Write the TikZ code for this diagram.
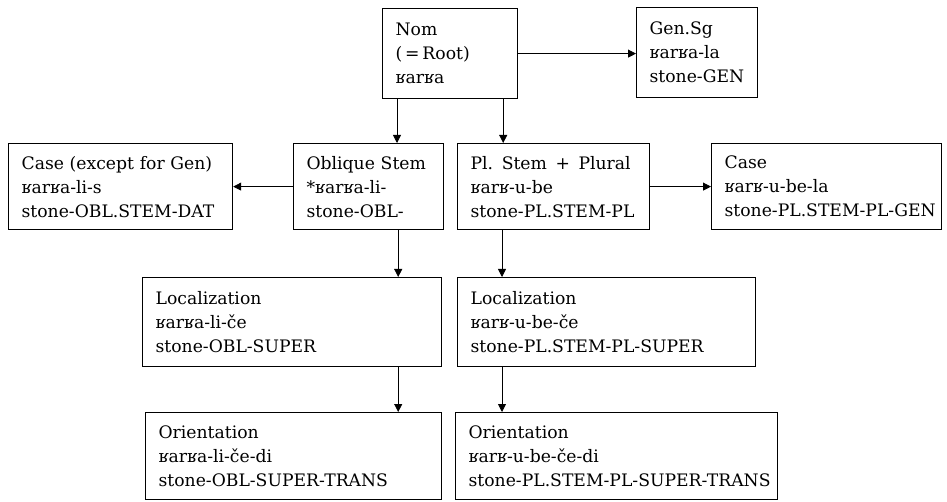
\documentclass[tikz,border=0pt]{standalone}
\usepackage{fontspec}
\setmainfont{DejaVu Serif}
\usetikzlibrary{arrows.meta}
\tikzset{
  box/.style={draw, line width=1.2pt, align=left, anchor=north west,
    inner xsep=13pt, inner ysep=0pt,
    font=\fontsize{17.2pt}{24pt}\selectfont},
  conn/.style={line width=0.8pt, -{Triangle[length=8pt,width=8pt]}}
}
\newcommand{\bx}[6]{% name, x1, y1, x2, y2, text
  \pgfmathsetmacro{\bw}{#4-#2}\pgfmathsetmacro{\bh}{#5-#3}\pgfmathsetmacro{\tw}{#4-#2-26}%
  \node[box, minimum width=\bw pt, minimum height=\bh pt, text width=\tw pt] (#1) at (#2,#3) {#6};}
\begin{document}
\begin{tikzpicture}[x=1pt,y=-1pt]
\useasboundingbox (0,0) rectangle (947,502);
\bx{nom}{382}{8}{517}{98}{Nom\\(\thinspace=\thinspace Root)\\ʁarʁa}
\bx{gen}{636}{7}{757}{97}{Gen.Sg\\ʁarʁa-la\\\mbox{stone-GEN}}
\bx{casel}{8}{143}{232}{229}{\mbox{Case (except for Gen)}\\ʁarʁa-li-s\\\mbox{stone-OBL.STEM-DAT}}
\bx{obl}{293}{143}{443}{229}{\mbox{Oblique Stem}\\\mbox{*ʁarʁa-li-}\\stone-OBL-}
\bx{pl}{457}{143}{649}{229}{\mbox{Pl. Stem\enspace+\enspace Plural}\\ʁarʁ-u-be\\\mbox{stone-PL.STEM-PL}}
\bx{caser}{711}{143}{941}{229}{Case\\ʁarʁ-u-be-la\\\mbox{stone-PL.STEM-PL-GEN}}
\bx{locl}{142}{277}{441}{366}{Localization\\ʁarʁa-li-če\\\mbox{stone-OBL-SUPER}}
\bx{locr}{457}{277}{755}{366}{Localization\\ʁarʁ-u-be-če\\\mbox{stone-PL.STEM-PL-SUPER}}
\bx{orl}{145}{412}{441}{499}{Orientation\\ʁarʁa-li-če-di\\\mbox{stone-OBL-SUPER-TRANS}}
\bx{orr}{455}{412}{777}{499}{Orientation\\ʁarʁ-u-be-če-di\\\mbox{stone-PL.STEM-PL-SUPER-TRANS}}
\draw[conn] (nom.east) -- (nom.east -| gen.west);
\draw[conn] ([xshift=15pt]nom.south west) -- ([xshift=15pt]nom.south west |- obl.north);
\draw[conn] ([xshift=-15pt]nom.south east) -- ([xshift=-15pt]nom.south east |- pl.north);
\draw[conn] (obl.west) -- (casel.east);
\draw[conn] (pl.east) -- (caser.west);
\draw[conn] ([xshift=-46pt]obl.south east) -- ([xshift=-46pt]obl.south east |- locl.north);
\draw[conn] ([xshift=45pt]pl.south west) -- ([xshift=45pt]pl.south west |- locr.north);
\draw[conn] ([xshift=-44pt]locl.south east) -- ([xshift=-44pt]locl.south east |- orl.north);
\draw[conn] ([xshift=45pt]locr.south west) -- ([xshift=45pt]locr.south west |- orr.north);
\end{tikzpicture}
\end{document}
